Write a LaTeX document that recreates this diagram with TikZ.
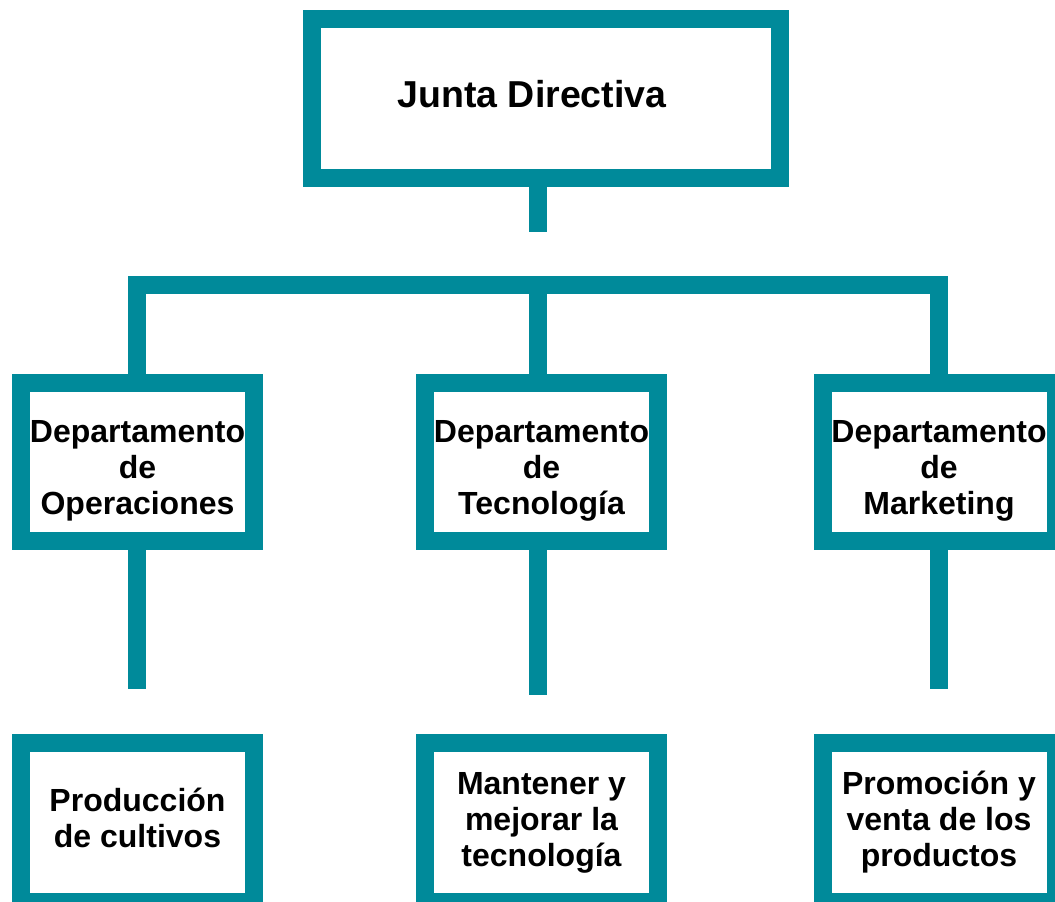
\documentclass[tikz,border=0pt]{standalone}
\usepackage{fontspec}
\setmainfont{Liberation Sans}
\usepackage{tikz}
\usetikzlibrary{positioning}
\definecolor{teal1}{RGB}{0,138,154}
\newcommand{\upby}[1]{\rule[-#1]{0pt}{#1}} % extra depth: lifts the text
\newcommand{\downby}[1]{\rule{0pt}{#1}}   % extra height: lowers the text
\tikzset{
    x=1pt, y=-1pt, % one unit per pixel of the reference
    every box/.style={ % Sets the properties for each box
        draw=teal1,
        line width=18pt,
        fill=white,
        align=center,
        font=\bfseries\fontsize{32}{36}\selectfont
    },
    topbox/.style={every box, minimum width=468pt, minimum height=159pt,
        font=\bfseries\fontsize{37.5}{42}\selectfont},
    deptbox/.style={every box, minimum width=233pt, minimum height=158pt},
    taskbox/.style={every box, minimum width=233pt, minimum height=159pt},
    link/.style={ % Sets the properties for each connector
        draw=teal1,
        line width=18pt,
        line join=miter,
        line cap=butt
    }
}
\begin{document}
\begin{tikzpicture}
    \useasboundingbox (0,0) rectangle (1055,902);
    \clip (0,0) rectangle (1055,902);
    \fill[white] (0,0) rectangle (1055,902);

    \node[topbox] (jd) at (546,98.5) {Junta Directiva\hspace*{28pt}\upby{10pt}};

    \node[deptbox] (ops) at (137.5,462) {\downby{39pt}Departamento\\de\\Operaciones};
    \node[deptbox] (tec) at (541.5,462) {\downby{39pt}Departamento\\de\\Tecnología};
    \node[deptbox] (mkt) at (939,462) {\downby{39pt}Departamento\\de\\Marketing};

    \node[taskbox] (prod) at (137.5,822.5) {Producción\\de cultivos\upby{10pt}};
    \node[taskbox] (mant) at (541.5,822.5) {Mantener y\\mejorar la\\tecnología};
    \node[taskbox] (prom) at (939,822.5) {Promoción y\\venta de los\\productos};

    % free ends of the stems
    \coordinate (jdend) at (538,232);
    \coordinate (bar) at (538,285);
    \coordinate (opsend) at (137,689);
    \coordinate (tecend) at (538,695);
    \coordinate (mktend) at (939,689);

    \draw[link] (jd.south -| jdend) -- (jdend);
    \draw[link] (ops.north -| opsend) -- (bar -| opsend) -- (bar -| mkt.north) -- (mkt.north);
    \draw[link] (bar) -- (bar |- tec.north);

    \draw[link] (ops.south -| opsend) -- (opsend);
    \draw[link] (tec.south -| tecend) -- (tecend);
    \draw[link] (mkt.south) -- (mktend);
\end{tikzpicture}
\end{document}
